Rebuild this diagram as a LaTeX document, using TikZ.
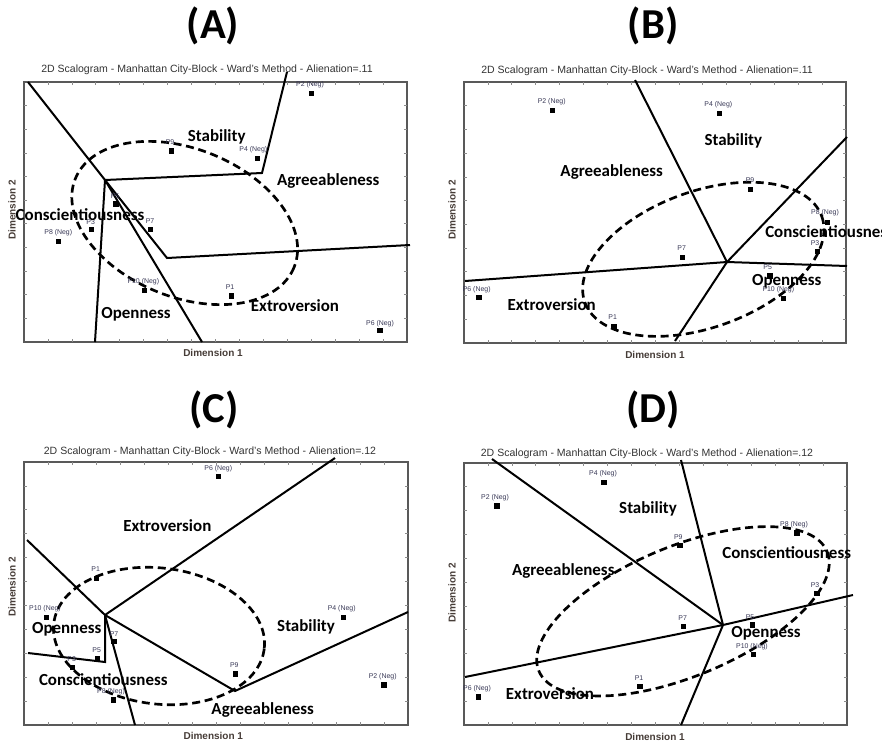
\documentclass[tikz,border=0pt]{standalone}
\usepackage{fontspec}
\setmainfont{Liberation Sans}
\newfontfamily\calfont{Carlito}
\definecolor{plabc}{RGB}{55,55,85}
\definecolor{axc}{RGB}{70,60,55}

% frame of one scalogram with inward tick marks: x0,y0,x1,y1
\newcommand\chartframe[4]{%
  \draw[chartbox] (#1,#2) rectangle (#3,#4);
  \foreach \i in {1,...,15}{%
    \draw[tickmark] ({#1+\i*(#3-#1)/16},#2) -- ++(0,3);
    \draw[tickmark] ({#1+\i*(#3-#1)/16},#4) -- ++(0,-3);}
  \foreach \j in {1,...,10}{%
    \draw[tickmark] (#1,{#2+\j*(#4-#2)/11}) -- ++(3,0);
    \draw[tickmark] (#3,{#2+\j*(#4-#2)/11}) -- ++(-3,0);}
}

\tikzset{
  chartbox/.style={draw=black!65, line width=1pt},
  tickmark/.style={draw=black!45, line width=0.5pt},
  bound/.style={line width=1.5pt, line join=miter},
  facet/.style={dash pattern=on 6pt off 3.5pt, line width=2pt},
  pt/.style={rectangle, fill=black, minimum size=4pt, inner sep=0pt},
  plab/.style={font=\fontsize{5.2}{6}\selectfont, text=plabc, inner sep=0pt},
  cat/.style={font=\calfont\bfseries\fontsize{12.7}{14}\selectfont, inner sep=0pt},
  ptitle/.style={font=\fontsize{7.9}{9}\selectfont, text=black!80, inner sep=0pt},
  axlab/.style={font=\bfseries\fontsize{7.5}{9}\selectfont, text=axc, inner sep=0pt},
  big/.style={font=\calfont\bfseries\fontsize{32}{36}\selectfont, inner sep=0pt}
}

\begin{document}
\begin{tikzpicture}[x=0.75pt,y=-0.75pt]
\useasboundingbox (0,0) rectangle (882,743);

% ---------------- (A) ----------------
\node[big] (hA) at (213,26) {(A)};
\node[ptitle] (tA) at (207,70) {2D Scalogram - Manhattan City-Block - Ward's Method - Alienation=.11};
\chartframe{24}{82}{407}{342}
\node[axlab] (xA) at (213,353) {Dimension 1};
\node[axlab, rotate=90] (yA) at (12,210) {Dimension 2};

\coordinate (aJ) at (105,180);
\coordinate (aTL) at (28,82);
\coordinate (aK1) at (262,173);
\coordinate (aT) at (287,72);
\coordinate (aK2) at (167,258);
\coordinate (aR) at (410,245);
\coordinate (aB1) at (95,342);
\coordinate (aB2) at (202,342);
\draw[bound] (aTL) -- (aJ) -- (aK1) -- (aT);
\draw[bound] (aJ) -- (aK2) -- (aR);
\draw[bound] (aJ) -- (aB1);
\draw[bound] (aJ) -- (aB2);
\draw[facet, rotate around={-22:(184.7,223)}] (184.7,223) ellipse (118 and 74);

\node[pt] (a2) at (311.7,93.3) {};  \node[plab] (a2l) at (310,85) {P2 (Neg)};
\node[pt] (a9) at (171.7,151) {};   \node[plab] (a9l) at (170,142) {P9};
\node[pt] (a4) at (257.7,158.3) {};  \node[plab] (a4l) at (253.3,150) {P4 (Neg)};
\node[pt] (a5) at (116,204) {};     \node[plab] (a5l) at (115,196.5) {P5};
\node[pt] (a3) at (91.7,229.3) {};  \node[plab] (a3l) at (90.7,222) {P3};
\node[pt] (a7) at (150.3,229.3) {}; \node[plab] (a7l) at (150,220.7) {P7};
\node[pt] (a8) at (58.3,241.7) {};  \node[plab] (a8l) at (58.3,232.7) {P8 (Neg)};
\node[pt] (a10) at (144.3,290.3) {}; \node[plab] (a10l) at (143.3,281.7) {P10 (Neg)};
\node[pt] (a1) at (231.3,296) {};   \node[plab] (a1l) at (230,286.7) {P1};
\node[pt] (a6) at (380,330.7) {};   \node[plab] (a6l) at (380,323.3) {P6 (Neg)};

\node[cat] (aSt) at (216.7,137.3) {Stability};
\node[cat] (aAg) at (328.3,180.7) {Agreeableness};
\node[cat] (aCo) at (80,215) {Conscientiousness};
\node[cat] (aOp) at (136,314) {Openness};
\node[cat] (aEx) at (295,306) {Extroversion};

% ---------------- (B) ----------------
\node[big] (hB) at (653,26) {(B)};
\node[ptitle] (tB) at (647,70.5) {2D Scalogram - Manhattan City-Block - Ward's Method - Alienation=.11};
\chartframe{464}{82}{846}{343}
\node[axlab] (xB) at (655,355) {Dimension 1};
\node[axlab, rotate=90] (yB) at (452,210) {Dimension 2};

\coordinate (bJ) at (727,262);
\coordinate (bT) at (635,80);
\coordinate (bUR) at (847,137);
\coordinate (bL) at (465,281);
\coordinate (bR) at (847,266);
\coordinate (bB) at (675,341);
\draw[bound] (bJ) -- (bT);
\draw[bound] (bJ) -- (bUR);
\draw[bound] (bJ) -- (bL);
\draw[bound] (bJ) -- (bR);
\draw[bound] (bJ) -- (bB);
\draw[facet, rotate around={20:(703.3,259.3)}] (703.3,259.3) ellipse (126 and 68);

\node[pt] (b2) at (552.7,110.7) {};  \node[plab] (b2l) at (551.7,101.7) {P2 (Neg)};
\node[pt] (b4) at (719.3,113.3) {};  \node[plab] (b4l) at (718.3,105) {P4 (Neg)};
\node[pt] (b9) at (750.7,189.3) {};  \node[plab] (b9l) at (750,180) {P9};
\node[pt] (b8) at (827.3,222.3) {};  \node[plab] (b8l) at (825,212.7) {P8 (Neg)};
\node[pt] (b3) at (817.3,251.7) {};  \node[plab] (b3l) at (815,242.7) {P3};
\node[pt] (b7) at (682.3,257.3) {};  \node[plab] (b7l) at (681.7,248.3) {P7};
\node[pt] (b5) at (770,276) {};      \node[plab] (b5l) at (767.7,267.3) {P5};
\node[pt] (b10) at (783.3,298.3) {}; \node[plab] (b10l) at (778.3,290) {P10 (Neg)};
\node[pt] (b6) at (479,297.3) {};    \node[plab] (b6l) at (476.7,289.3) {P6 (Neg)};
\node[pt] (b1) at (614,326.7) {};    \node[plab] (b1l) at (612.7,317.3) {P1};

\node[cat] (bSt) at (733.3,141) {Stability};
\node[cat] (bAg) at (611.7,172.3) {Agreeableness};
\node[cat, anchor=west] (bCo) at (765,231.7) {Conscientiousness};
\node[cat] (bOp) at (786.7,281.7) {Openness};
\node[cat] (bEx) at (551.7,305) {Extroversion};

% ---------------- (C) ----------------
\node[big] (hC) at (214,410) {(C)};
\node[ptitle] (tC) at (210,451.7) {2D Scalogram - Manhattan City-Block - Ward's Method - Alienation=.12};
\chartframe{24}{462}{408}{725}
\node[axlab] (xC) at (213.3,736) {Dimension 1};
\node[axlab, rotate=90] (yC) at (12,587) {Dimension 2};

\coordinate (cJ1) at (105,615);
\coordinate (cTL) at (27,540);
\coordinate (cUR) at (335,458);
\coordinate (cJ2) at (235,691);
\coordinate (cR) at (408,612);
\coordinate (cK) at (105,662);
\coordinate (cL) at (28,653);
\coordinate (cB) at (135,725);
\draw[bound] (cTL) -- (cJ1) -- (cUR);
\draw[bound] (cJ1) -- (cJ2) -- (cR);
\draw[bound] (cJ1) -- (cK) -- (cL);
\draw[bound] (cJ1) -- (cB);
\draw[facet, rotate around={-7:(159,636)}] (159,636) ellipse (106 and 68);

\node[pt] (c6) at (218.3,476.7) {};  \node[plab] (c6l) at (218.3,468.3) {P6 (Neg)};
\node[pt] (c1) at (96.7,578.3) {};   \node[plab] (c1l) at (95.7,569.3) {P1};
\node[pt] (c10) at (46.7,617.7) {};  \node[plab] (c10l) at (45,609) {P10 (Neg)};
\node[pt] (c4) at (343.3,617.7) {};  \node[plab] (c4l) at (341.7,609) {P4 (Neg)};
\node[pt] (c7) at (114,641.7) {};    \node[plab] (c7l) at (114,634) {P7};
\node[pt] (c5) at (97.7,658.7) {};   \node[plab] (c5l) at (96.7,650) {P5};
\node[pt] (c3) at (72.7,667.3) {};   \node[plab] (c3l) at (71.7,659.3) {P3};
\node[pt] (c9) at (235.3,674) {};    \node[plab] (c9l) at (234.3,665.3) {P9};
\node[pt] (c2) at (384,685) {};      \node[plab] (c2l) at (382.7,676.7) {P2 (Neg)};
\node[pt] (c8) at (113.3,700) {};    \node[plab] (c8l) at (111,691.7) {P8 (Neg)};

\node[cat] (cEx) at (167.3,525.7) {Extroversion};
\node[cat] (cOp) at (66.7,629) {Openness};
\node[cat] (cSt) at (306,627.3) {Stability};
\node[cat] (cCo) at (103.3,679.3) {Conscientiousness};
\node[cat] (cAg) at (262.7,710) {Agreeableness};

% ---------------- (D) ----------------
\node[big] (hD) at (653,410) {(D)};
\node[ptitle] (tD) at (647,454) {2D Scalogram - Manhattan City-Block - Ward's Method - Alienation=.12};
\chartframe{464}{463}{847}{725}
\node[axlab] (xD) at (655,736.7) {Dimension 1};
\node[axlab, rotate=90] (yD) at (452,593) {Dimension 2};

\coordinate (dJ) at (723,625);
\coordinate (dTL) at (492,459);
\coordinate (dT) at (681,460);
\coordinate (dR) at (853,595);
\coordinate (dL) at (465,677);
\coordinate (dB) at (681,725);
\draw[bound] (dJ) -- (dTL);
\draw[bound] (dJ) -- (dT);
\draw[bound] (dJ) -- (dR);
\draw[bound] (dJ) -- (dL);
\draw[bound] (dJ) -- (dB);
\draw[facet, rotate around={22.5:(683,611.3)}] (683,611.3) ellipse (156 and 65);

\node[pt] (d4) at (604,482.3) {};    \node[plab] (d4l) at (603,473.3) {P4 (Neg)};
\node[pt] (d2) at (497,506) {};      \node[plab] (d2l) at (495,497.7) {P2 (Neg)};
\node[pt] (d8) at (797,533) {};      \node[plab] (d8l) at (794,524.3) {P8 (Neg)};
\node[pt] (d9) at (680,545.7) {};    \node[plab] (d9l) at (678.3,537.3) {P9};
\node[pt] (d3) at (817,593.3) {};    \node[plab] (d3l) at (815,585) {P3};
\node[pt] (d7) at (683.7,626.7) {};  \node[plab] (d7l) at (682.7,617.7) {P7};
\node[pt] (d5) at (752.3,625) {};    \node[plab] (d5l) at (750,617) {P5};
\node[pt] (d10) at (753.3,654.7) {}; \node[plab] (d10l) at (752,646.3) {P10 (Neg)};
\node[pt] (d1) at (640,686.7) {};    \node[plab] (d1l) at (639,678) {P1};
\node[pt] (d6) at (478.3,697) {};    \node[plab] (d6l) at (477,688.7) {P6 (Neg)};

\node[cat] (dSt) at (648,509) {Stability};
\node[cat] (dCo) at (786.7,553) {Conscientiousness};
\node[cat] (dAg) at (563.3,570.7) {Agreeableness};
\node[cat] (dOp) at (766,633) {Openness};
\node[cat] (dEx) at (550,693.3) {Extroversion};
\end{tikzpicture}
\end{document}
